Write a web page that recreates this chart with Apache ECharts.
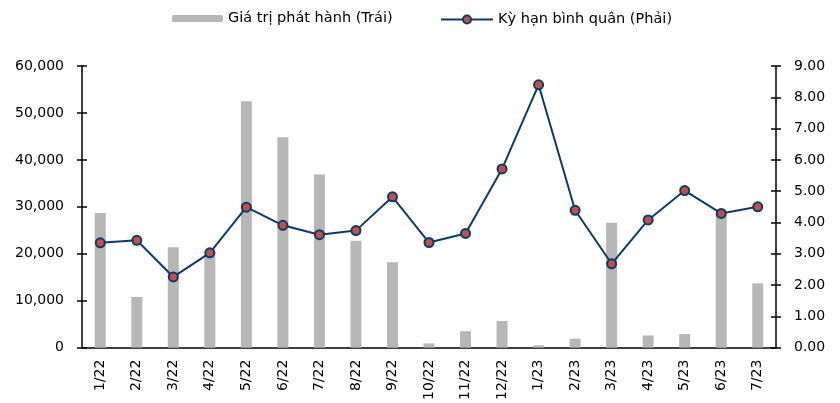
<!DOCTYPE html>
<html>
<head>
<meta charset="utf-8">
<script src="https://cdn.jsdelivr.net/npm/echarts@6/dist/echarts.min.js"></script>
<style>html,body{margin:0;padding:0;background:#fff}#c{width:840px;height:403px}</style>
</head>
<body>
<div id="c"></div>
<script>
var categories = ['1/22','2/22','3/22','4/22','5/22','6/22','7/22','8/22','9/22','10/22','11/22','12/22','1/23','2/23','3/23','4/23','5/23','6/23','7/23'];
var issueValue = [28700, 10800, 21400, 20300, 52500, 44800, 36900, 22800, 18200, 900, 3500, 5700, 500, 1900, 26600, 2600, 2900, 28600, 13700];
var avgTenor = [3.35, 3.43, 2.26, 3.03, 4.49, 3.91, 3.61, 3.74, 4.82, 3.36, 3.65, 5.71, 8.40, 4.39, 2.68, 4.08, 5.02, 4.29, 4.50];
var leftTicks = {min: 0, max: 60000, interval: 10000};
var rightTicks = {min: 0, max: 9, interval: 1};
var barName = 'Giá trị phát hành (Trái)';
var lineName = 'Kỳ hạn bình quân (Phải)';

var FONT = 'DejaVu Sans';
var axisColor = '#000';
function fmtThousands(v){ return String(v).replace(/\B(?=(\d{3})+(?!\d))/g, ','); }

var chart = echarts.init(document.getElementById('c'), null, {renderer: 'canvas'});
chart.setOption({
  animation: false,
  backgroundColor: '#fff',
  legend: [
    {
      data: [barName], left: 167, top: 6, itemWidth: 51, itemHeight: 7,
      textStyle: {fontFamily: FONT, fontSize: 14.5, color: '#000'}
    },
    {
      data: [lineName], left: 435, top: 7, itemWidth: 52, itemHeight: 10,
      textStyle: {fontFamily: FONT, fontSize: 14.5, color: '#000'}
    }
  ],
  grid: {left: 82, right: 64, top: 66, bottom: 53, containLabel: false},
  xAxis: {
    type: 'category', data: categories, boundaryGap: true,
    axisLine: {lineStyle: {color: axisColor, width: 1.5}},
    axisTick: {inside: true, length: 6, interval: 0, lineStyle: {color: axisColor, width: 1.5}},
    axisLabel: {rotate: 90, interval: 0, margin: 12, fontFamily: FONT, fontSize: 14, color: '#000'},
    splitLine: {show: false}
  },
  yAxis: [
    {
      type: 'value', position: 'left', min: leftTicks.min, max: leftTicks.max, interval: leftTicks.interval,
      axisLine: {show: true, lineStyle: {color: axisColor, width: 1.5}},
      axisTick: {show: true, length: 5, lineStyle: {color: axisColor, width: 1.5}},
      axisLabel: {margin: 18, fontFamily: FONT, fontSize: 14, color: '#000', formatter: fmtThousands},
      splitLine: {show: false}
    },
    {
      type: 'value', position: 'right', min: rightTicks.min, max: rightTicks.max, interval: rightTicks.interval,
      axisLine: {show: true, lineStyle: {color: axisColor, width: 1.5}},
      axisTick: {show: true, length: 5, lineStyle: {color: axisColor, width: 1.5}},
      axisLabel: {margin: 18, fontFamily: FONT, fontSize: 14, color: '#000', formatter: function(v){ return v.toFixed(2); }},
      splitLine: {show: false}
    },
    {
      type: 'value', position: 'left', min: leftTicks.min, max: leftTicks.max, interval: leftTicks.interval,
      axisLine: {show: false}, axisLabel: {show: false}, splitLine: {show: false},
      axisTick: {show: true, inside: true, length: 5, lineStyle: {color: axisColor, width: 1.5}}
    },
    {
      type: 'value', position: 'right', min: rightTicks.min, max: rightTicks.max, interval: rightTicks.interval,
      axisLine: {show: false}, axisLabel: {show: false}, splitLine: {show: false},
      axisTick: {show: true, inside: true, length: 5, lineStyle: {color: axisColor, width: 1.5}}
    }
  ],
  series: [
    {
      name: barName, type: 'bar', yAxisIndex: 0, data: issueValue, barWidth: 11,
      itemStyle: {color: '#b7b7b7'}
    },
    {
      name: lineName, type: 'line', yAxisIndex: 1, data: avgTenor,
      symbol: 'circle', symbolSize: 9,
      lineStyle: {color: '#0e3a64', width: 2},
      itemStyle: {color: '#c0504d', borderColor: '#0e3a64', borderWidth: 2}
    }
  ]
});
</script>
</body>
</html>
